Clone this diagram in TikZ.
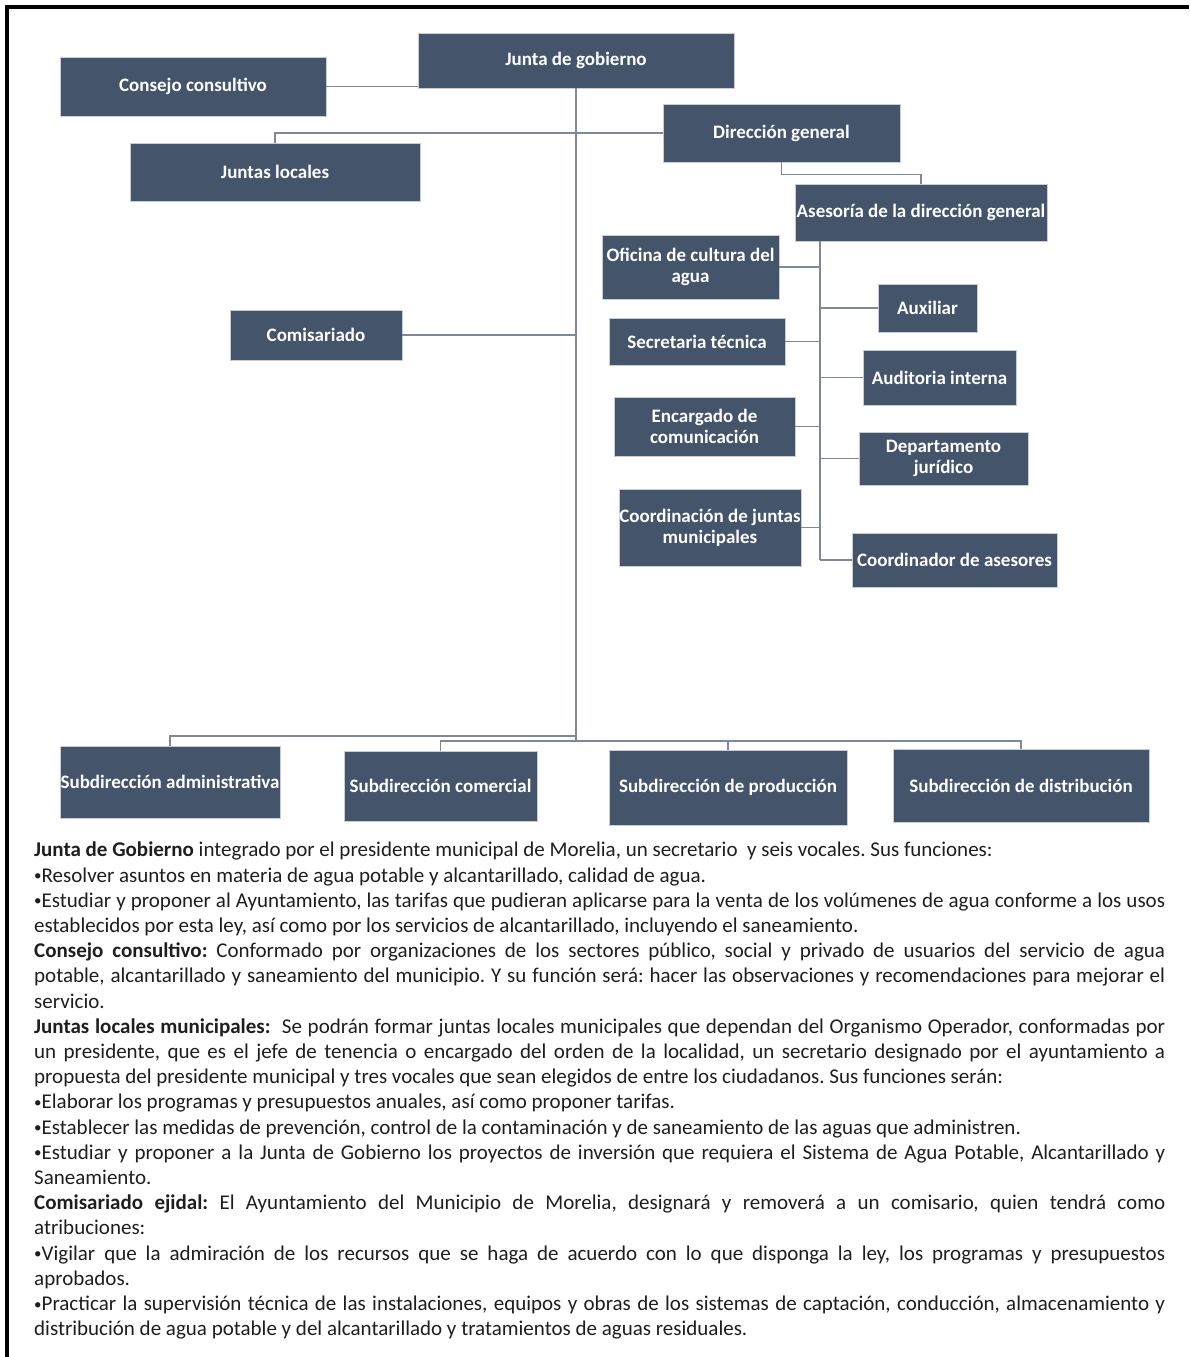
\documentclass[tikz,border=0pt]{standalone}
\usepackage{fontspec}
\setmainfont{Carlito}
\usepackage{tikz}
\usepackage{xcolor}
\usetikzlibrary{positioning}
\definecolor{Org_Slate}{HTML}{44546A}
\definecolor{Org_Edge}{HTML}{C8CDD5}
\definecolor{Org_Link}{HTML}{7E8898}
\definecolor{Org_Text}{HTML}{1E1E1E}
\newcommand{\itemdot}{{\fontsize{15}{15}\selectfont\raisebox{1.5pt}{•}}}
\tikzset{
  unit/.style={fill=Org_Slate, draw=Org_Edge, line width=0.8pt, text=white,
    font=\bfseries\fontsize{19}{21}\selectfont, align=center, inner sep=0pt},
  link/.style={draw=Org_Link, line width=1.8pt},
}

\begin{document}
\begin{tikzpicture}[x=1pt, y=-1pt]
    \useasboundingbox (0,0) rectangle (1189,1357);

    % Frame
    \draw[line width=4pt] (7,1357) -- (7,7) -- (1189,7);

    % Top level
    \node[unit, minimum width=316, minimum height=55] (junta) at (576,60.5) {Junta de gobierno};
    \node[unit, minimum width=266, minimum height=59] (consejo) at (193,86.5) {Consejo consultivo};
    \node[unit, minimum width=290, minimum height=58] (locales) at (275,172) {Juntas locales};
    \node[unit, minimum width=237, minimum height=58] (direccion) at (781.5,133) {Dirección general};
    \node[unit, minimum width=172, minimum height=50] (comisariado) at (316,335) {Comisariado};

    % Asesoria and its units
    \node[unit, minimum width=252, minimum height=57] (asesoria) at (921,212.5) {Asesoría de la dirección general};
    \node[unit, minimum width=177, minimum height=64] (oficina) at (690.5,267) {Oficina de cultura del\\agua};
    \node[unit, minimum width=176, minimum height=47] (secretaria) at (697,341.5) {Secretaria técnica};
    \node[unit, minimum width=181, minimum height=59] (encargado) at (704.5,426.5) {Encargado de\\comunicación};
    \node[unit, minimum width=182, minimum height=77] (coordinacion) at (710,527.5) {Coordinación de juntas\\municipales};
    \node[unit, minimum width=99, minimum height=48] (auxiliar) at (927.5,308) {Auxiliar};
    \node[unit, minimum width=153, minimum height=55] (auditoria) at (939.5,377.5) {Auditoria interna};
    \node[unit, minimum width=169, minimum height=53] (juridico) at (943.5,458.5) {Departamento\\jurídico};
    \node[unit, minimum width=205, minimum height=54] (coordinador) at (954.5,560) {Coordinador de asesores};

    % Subdirecciones
    \node[unit, minimum width=220, minimum height=72] (admin) at (170,782) {Subdirección administrativa};
    \node[unit, minimum width=193, minimum height=70] (comercial) at (440.5,786) {Subdirección comercial};
    \node[unit, minimum width=238, minimum height=75] (produccion) at (728,787.5) {Subdirección de producción};
    \node[unit, minimum width=256, minimum height=73] (distribucion) at (1021,785.5) {Subdirección de distribución};

    % Connectors
    \coordinate (busA) at (576,736);
    \coordinate (busB) at (576,741);
    \draw[link] (junta.south) -- (busB);
    \draw[link] (consejo.east) -- (consejo.east -| junta.west);
    \draw[link] (direccion.west) -- (direccion.west -| locales.north) -- (locales.north);
    \draw[link] (comisariado.east) -- (comisariado.east -| junta.south);
    \draw[link] (direccion.south) -- ++(0,12) -| (asesoria.north);
    \draw[link] (busA) -| (admin.north);
    \foreach \n in {comercial, produccion, distribucion}
        \draw[link] (busB) -| (\n.north);

    % Spine under Asesoria
    \path (asesoria.south west) ++(25,0) coordinate (spine);
    \draw[link] (spine) -- (spine |- coordinador.west);
    \foreach \n in {oficina, secretaria, encargado, coordinacion}
        \draw[link] (\n.east) -- (\n.east -| spine);
    \foreach \n in {auxiliar, auditoria, juridico, coordinador}
        \draw[link] (spine |- \n.west) -- (\n.west);

    % Description
    \node[anchor=north west, inner sep=0pt, text width=1131pt, align=justify, text=Org_Text,
          font=\fontsize{21}{25.2}\selectfont] (notes) at (34,842) {%
      \frenchspacing \hyphenpenalty=10000 \tolerance=9999 \emergencystretch=20pt
      \textbf{Junta de Gobierno} integrado por el presidente municipal de Morelia, un secretario ~y seis vocales. Sus funciones:\par
      \itemdot Resolver asuntos en materia de agua potable y alcantarillado, calidad de agua.\par
      \itemdot Estudiar y proponer al Ayuntamiento, las tarifas que pudieran aplicarse para la venta de los volúmenes de agua conforme a los usos\linebreak
      establecidos por esta ley, así como por los servicios de alcantarillado, incluyendo el saneamiento.\par
      \textbf{Consejo consultivo:} Conformado por organizaciones de los sectores público, social y privado de usuarios del servicio de agua\linebreak
      potable, alcantarillado y saneamiento del municipio. Y su función será: hacer las observaciones y recomendaciones para mejorar el\linebreak
      servicio.\par
      \textbf{Juntas locales municipales:}~ Se podrán formar juntas locales municipales que dependan del Organismo Operador, conformadas por\linebreak
      un presidente, que es el jefe de tenencia o encargado del orden de la localidad, un secretario designado por el ayuntamiento a\linebreak
      propuesta del presidente municipal y tres vocales que sean elegidos de entre los ciudadanos. Sus funciones serán:\par
      \itemdot Elaborar los programas y presupuestos anuales, así como proponer tarifas.\par
      \itemdot Establecer las medidas de prevención, control de la contaminación y de saneamiento de las aguas que administren.\par
      \itemdot Estudiar y proponer a la Junta de Gobierno los proyectos de inversión que requiera el Sistema de Agua Potable, Alcantarillado y\linebreak
      Saneamiento.\par
      \textbf{Comisariado ejidal:} El Ayuntamiento del Municipio de Morelia, designará y removerá a un comisario, quien tendrá como\linebreak
      atribuciones:\par
      \itemdot Vigilar que la admiración de los recursos que se haga de acuerdo con lo que disponga la ley, los programas y presupuestos\linebreak
      aprobados.\par
      \itemdot Practicar la supervisión técnica de las instalaciones, equipos y obras de los sistemas de captación, conducción, almacenamiento y\linebreak
      distribución de agua potable y del alcantarillado y tratamientos de aguas residuales.};
\end{tikzpicture}
\end{document}
